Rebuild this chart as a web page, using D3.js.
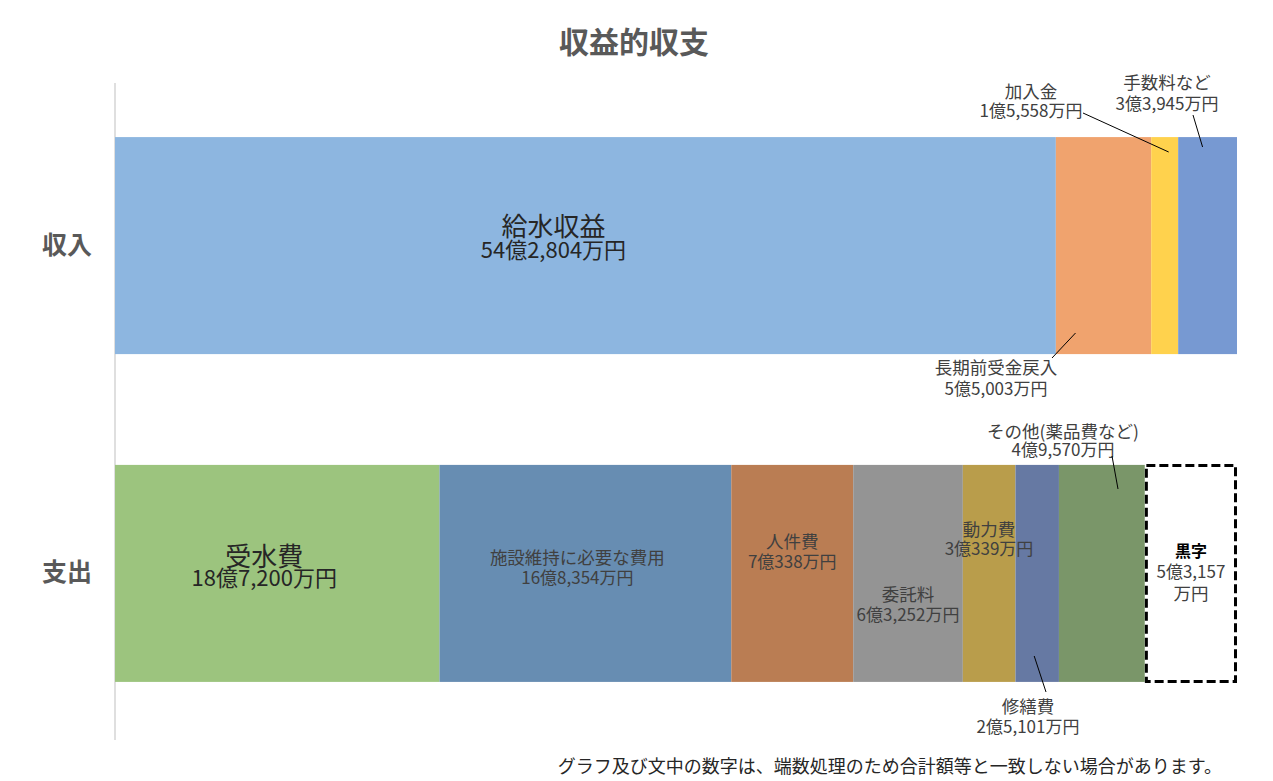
<!DOCTYPE html>
<html><head><meta charset="utf-8">
<script src="https://cdn.jsdelivr.net/npm/d3@7"></script>
<style>
html,body{margin:0;padding:0;background:#fff;}
text{font-family:"Noto Sans CJK JP","Noto Sans",sans-serif;}
</style></head>
<body><svg id="c" width="1273" height="781"></svg>
<script>
// ---- data (万円) ----
const rows = ["収入", "支出"];
const incomeCats = ["給水収益", "長期前受金戻入", "加入金", "手数料など"];
const incomeVals = [542804, 55003, 15558, 33945];
const expenseCats = ["受水費", "施設維持に必要な費用", "人件費", "委託料", "動力費", "修繕費", "その他(薬品費など)", "黒字"];
const expenseVals = [187200, 168354, 70338, 63252, 30339, 25101, 49570, 53157];
const title = "収益的収支";
const note = "グラフ及び文中の数字は、端数処理のため合計額等と一致しない場合があります。";

// ---- styles ----
const incomeColors = ["#8DB6E0", "#F0A36E", "#FFD24D", "#7799D2"];
const expenseColors = ["#9CC47E", "#678DB2", "#BA7D53", "#949494", "#B99D4B", "#6679A3", "#7A9669", "#FFFFFF"];

function fmt(v){
  const oku = Math.floor(v/10000), man = v % 10000;
  return oku + "億" + d3.format(",")(man) + "万円";
}

const svg = d3.select("#c");
const total = d3.sum(incomeVals);
const x = d3.scaleLinear().domain([0, total]).range([115, 1237]);
const y = d3.scaleBand().domain(rows).range([83, 736]).paddingInner(0.338).paddingOuter(0.165);

// title
svg.append("text").attr("x", 634).attr("y", 53).attr("text-anchor","middle")
  .attr("font-size", 30).attr("font-weight","bold").attr("fill","#595959").text(title);

// axis
const yAxis = d3.axisLeft(y).tickSize(0).tickPadding(23);
const ga = svg.append("g").attr("transform","translate(115,0)").call(yAxis);
ga.select(".domain").attr("stroke","#BFBFBF").attr("d","M0,83V740");
ga.selectAll("text").attr("font-size",25).attr("font-weight","bold").attr("fill","#595959")
  .attr("font-family",'"Noto Sans CJK JP",sans-serif');

function stack(vals){ let c=0; return vals.map(v=>{const s=c; c+=v; return [s,c];}); }
const incStack = stack(incomeVals), expStack = stack(expenseVals);

// income bars
svg.append("g").selectAll("rect").data(incomeVals).join("rect")
  .attr("x",(d,i)=>x(incStack[i][0])).attr("width",(d,i)=>x(incStack[i][1])-x(incStack[i][0]))
  .attr("y",y("収入")).attr("height",y.bandwidth()).attr("fill",(d,i)=>incomeColors[i]);

// expense bars
svg.append("g").selectAll("rect").data(expenseVals).join("rect")
  .attr("x",(d,i)=>x(expStack[i][0])).attr("width",(d,i)=>x(expStack[i][1])-x(expStack[i][0]))
  .attr("y",y("支出")).attr("height",y.bandwidth()).attr("fill",(d,i)=>expenseColors[i]);

// dashed surplus border
const li = expenseVals.length-1;
svg.append("rect")
  .attr("x", x(expStack[li][0])+1.5).attr("y", y("支出")+0.5)
  .attr("width", x(expStack[li][1])-x(expStack[li][0])-3).attr("height", y.bandwidth()-1)
  .attr("fill","none").attr("stroke","#000").attr("stroke-width",3).attr("stroke-dasharray","9,4");

const lblColor = "#404040";
// lines: [[text, baselineY, size, bold?], ...]
function label(cx, lines, fill){
  const t = svg.append("text").attr("text-anchor","middle").attr("fill",fill||lblColor);
  lines.forEach(l=>{
    t.append("tspan").attr("x",cx).attr("y",l[1]).attr("font-size",l[2])
     .attr("font-weight", l[3] ? "bold" : null).attr("fill", l[3] ? "#000" : null).text(l[0]);
  });
}
function leader(x1,y1,x2,y2){
  svg.append("line").attr("x1",x1).attr("y1",y1).attr("x2",x2).attr("y2",y2).attr("stroke","#000").attr("stroke-width",1);
}
const mid = (st,i)=> (x(st[i][0])+x(st[i][1]))/2;
const N = 17.5, V = 17;

// income labels
label(mid(incStack,0)-32, [[incomeCats[0],236,26],[fmt(incomeVals[0]),258,22]], "#262626");
label(996, [[incomeCats[1],374,N],[fmt(incomeVals[1]),395,V]]);
leader(1052, 358, mid(incStack,1)-28, 333);
label(1031, [[incomeCats[2],98,N],[fmt(incomeVals[2]),117,V]]);
leader(1083, 113, mid(incStack,2)+4, 152);
label(1167, [[incomeCats[3],89,N],[fmt(incomeVals[3]),110,V]]);
leader(1193, 115, mid(incStack,3)-5, 147);

// expense labels
label(mid(expStack,0)-13, [[expenseCats[0],566,26],[fmt(expenseVals[0]),586,22]], "#262626");
label(mid(expStack,1)-8, [[expenseCats[1],564,N],[fmt(expenseVals[1]),584,V]]);
label(mid(expStack,2), [[expenseCats[2],548,N],[fmt(expenseVals[2]),568,V]]);
label(mid(expStack,3), [[expenseCats[3],601,N],[fmt(expenseVals[3]),621,V]]);
label(989, [[expenseCats[4],536,N],[fmt(expenseVals[4]),555,V]]);
label(1028, [[expenseCats[5],713,N],[fmt(expenseVals[5]),733,V]]);
leader(1046, 692, mid(expStack,5)-3, 656);
label(1063, [[expenseCats[6],438,N],[fmt(expenseVals[6]),456,V]]);
leader(1112, 456, 1118, 489);
const s = fmt(expenseVals[li]);
label(mid(expStack,li), [[expenseCats[li],557,16,true],[s.slice(0, s.indexOf("万")),578,V],["万円",600,N]]);

// footnote
svg.append("text").attr("x",1222).attr("y",773).attr("text-anchor","end").attr("font-size",18)
  .attr("fill","#262626").text(note);
</script></body></html>
